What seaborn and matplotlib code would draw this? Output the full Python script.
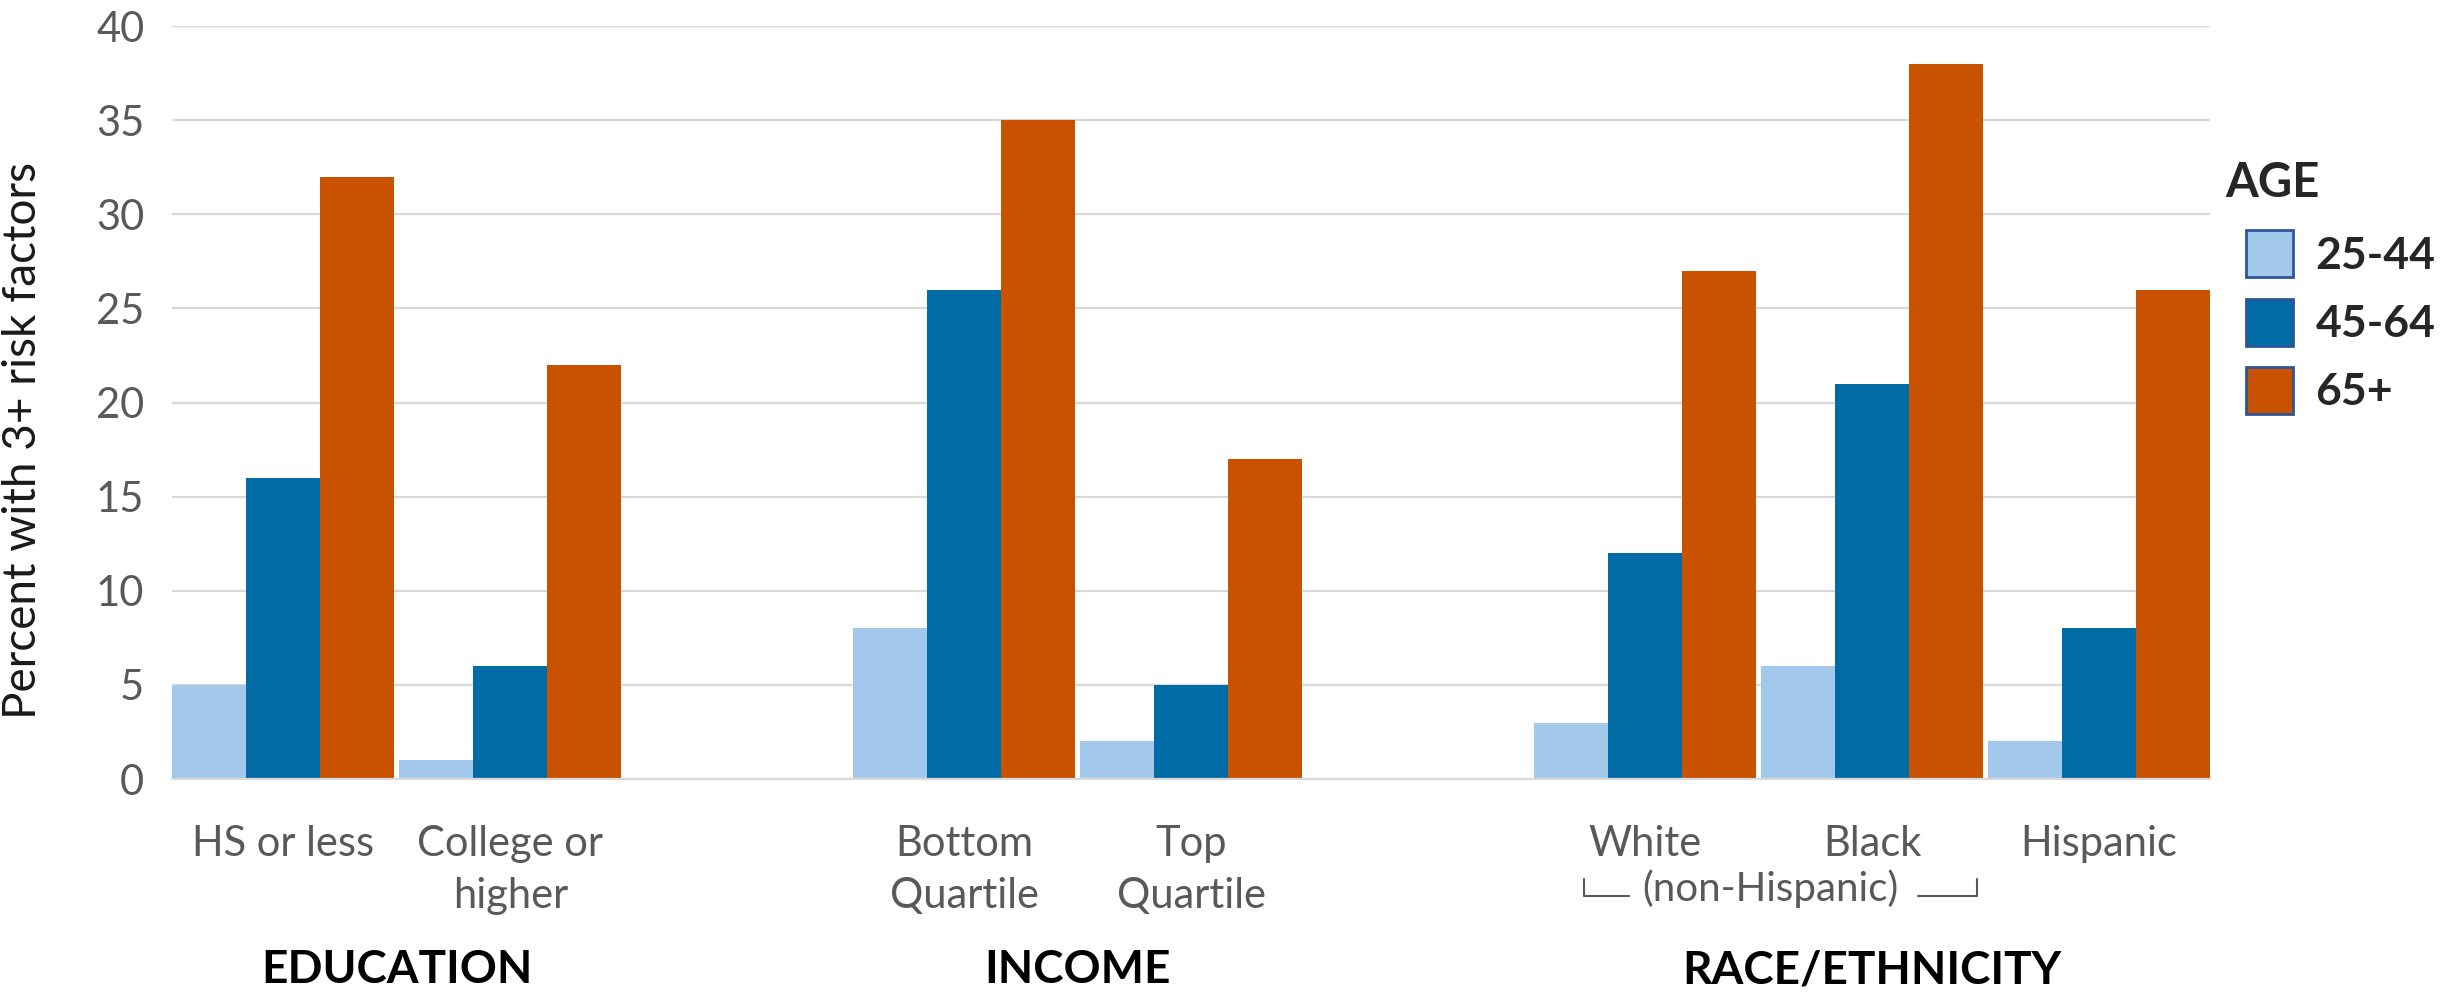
import matplotlib
matplotlib.use("Agg")
import matplotlib.pyplot as plt
import matplotlib.transforms as mtransforms
import seaborn as sns
import pandas as pd

# Categories (empty slots separate the three panels)
categories = ["HS or less", "College or higher", "", "Bottom Quartile", "Top Quartile", " ",
              "White", "Black", "Hispanic"]
tick_labels = ["HS or less", "College or\nhigher", "Bottom\nQuartile", "Top\nQuartile",
               "White", "Black", "Hispanic"]
shown = ["HS or less", "College or higher", "Bottom Quartile", "Top Quartile",
         "White", "Black", "Hispanic"]
age_groups = ["25-44", "45-64", "65+"]

age_25_44 = [5, 1, 8, 2, 3, 6, 2]
age_45_64 = [16, 6, 26, 5, 12, 21, 8]
age_65_up = [32, 22, 35, 17, 27, 38, 26]

panel_names = ["EDUCATION", "INCOME", "RACE/ETHNICITY"]
colors = ["#A2C8EC", "#006BA4", "#C85200"]

rows = []
for series, age in zip([age_25_44, age_45_64, age_65_up], age_groups):
    for cat, v in zip(shown, series):
        rows.append({"category": cat, "age": age, "value": v})
df = pd.DataFrame(rows)

sns.set_style("white")
plt.rcParams["font.family"] = ["Lato", "DejaVu Sans"]

fig = plt.figure(figsize=(24.51, 9.93), dpi=100)
ax = fig.add_axes([0.0702, 0.2155, 0.8316, 0.7583])

sns.barplot(data=df, x="category", y="value", hue="age", order=categories,
            hue_order=age_groups, palette=colors, width=0.98, gap=0,
            saturation=1, linewidth=0, ax=ax, legend=True)

ax.set_ylim(0, 40)
ax.set_xlim(-0.49, 8.49)
ax.set_yticks(range(0, 41, 5))
ax.set_axisbelow(True)
ax.yaxis.grid(True, color="#D9D9D9", linewidth=1.6)
ax.xaxis.grid(False)
for side in ["top", "right", "left"]:
    ax.spines[side].set_visible(False)
ax.spines["bottom"].set_color("#D9D9D9")
ax.spines["bottom"].set_linewidth(1.6)

tick_pos = [categories.index(c) for c in shown]
ax.set_xticks(tick_pos)
ax.set_xticklabels(tick_labels, linespacing=1.45)
ax.tick_params(axis="x", length=0, pad=33, labelsize=30, labelcolor="#595959")
ax.tick_params(axis="y", length=0, pad=20, labelsize=30, labelcolor="#595959")
ax.set_xlabel("")
ax.set_ylabel("Percent with 3+ risk factors", fontsize=33, color="#1a1a1a")
ax.yaxis.set_label_coords(-0.0629, 0.45)

trans = mtransforms.blended_transform_factory(ax.transData, ax.transAxes)

# Panel headings under each cluster
panel_centers = [0.5, 3.5, 7.0]
for name, xc in zip(panel_names, panel_centers):
    ax.text(xc, -0.254, name, transform=trans, ha="center", va="center",
            fontsize=33, fontweight="bold", color="black")

# Bracket grouping White and Black as non-Hispanic
ax.text(6.55, -0.145, "(non-Hispanic)", transform=trans, ha="center", va="center",
        fontsize=29, color="#595959")
ax.plot([5.73, 5.73, 5.93], [-0.133, -0.155, -0.155], transform=trans,
        color="#595959", linewidth=1.5, clip_on=False)
ax.plot([7.2, 7.46, 7.46], [-0.155, -0.155, -0.133], transform=trans,
        color="#595959", linewidth=1.5, clip_on=False)

# Legend
handles, labels = ax.get_legend_handles_labels()
ax.get_legend().remove()
for h in handles:
    h.set_edgecolor("#2F5597")
    h.set_linewidth(2)
leg = fig.legend(handles, labels, loc="upper left", bbox_to_anchor=(0.9164, 0.768),
                 frameon=False, borderpad=0, borderaxespad=0,
                 handlelength=1.06, handleheight=1.25,
                 handletextpad=0.5, labelspacing=0.48,
                 prop={"size": 32, "weight": "bold", "family": ["Lato", "DejaVu Sans"]})
fig.text(0.908, 0.816, "AGE", fontsize=34, fontweight="bold", ha="left", va="center")

fig.savefig("out.png", dpi=100)
